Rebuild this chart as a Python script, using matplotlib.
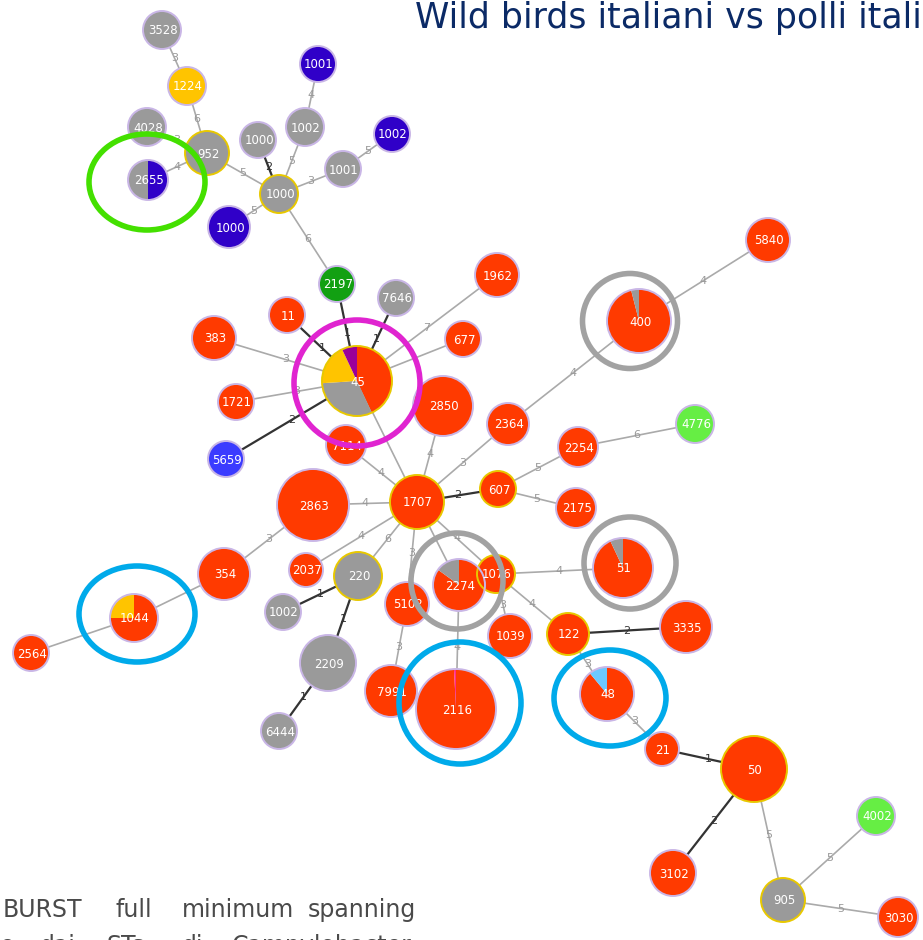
import matplotlib.pyplot as plt
from matplotlib.patches import Circle, Wedge, Ellipse
import numpy as np

# ST nodes : identifiant, etiquette, position (layout eBURST, px), rayon
node_ids = ["3528", "1224", "4028", "952", "2655", "10011", "1002", "10004", "10022",
            "1001", "1000", "10007", "2197", "7646", "11", "383", "45", "677", "1962",
            "1721", "2850", "5659", "7114", "2364", "2254", "4776", "400", "5840",
            "2863", "1707", "607", "2175", "354", "2037", "220", "10028", "5102",
            "2274", "1076", "51", "1039", "122", "3335", "1044", "2564", "2209",
            "7991", "2116", "48", "6444", "21", "50", "3102", "4002", "905", "3030"]
node_labels = ["3528", "1224", "4028", "952", "2655", "1001", "1002", "1000", "1002",
               "1001", "1000", "1000", "2197", "7646", "11", "383", "45", "677", "1962",
               "1721", "2850", "5659", "7114", "2364", "2254", "4776", "400", "5840",
               "2863", "1707", "607", "2175", "354", "2037", "220", "1002", "5102",
               "2274", "1076", "51", "1039", "122", "3335", "1044", "2564", "2209",
               "7991", "2116", "48", "6444", "21", "50", "3102", "4002", "905", "3030"]
layout_x = [162, 187, 147, 207, 148, 318, 305, 258, 392, 343, 279, 229, 337, 396, 287,
            214, 357, 463, 497, 236, 443, 226, 346, 508, 578, 695, 639, 768, 313, 417,
            498, 576, 224, 306, 358, 283, 407, 459, 496, 623, 510, 568, 686, 134, 31,
            328, 391, 456, 607, 279, 662, 754, 673, 876, 783, 898]
layout_y = [30, 86, 127, 153, 180, 64, 127, 140, 134, 169, 194, 227, 284, 298, 315,
            338, 381, 339, 275, 402, 406, 459, 445, 424, 447, 424, 321, 240, 505, 502,
            489, 508, 574, 570, 576, 612, 604, 585, 574, 568, 636, 634, 627, 618, 653,
            663, 691, 709, 694, 731, 749, 769, 873, 816, 900, 917]
node_radius = [19, 19, 19, 22, 20, 18, 19, 18, 18, 18, 19, 21, 18, 18, 18, 22, 35, 18,
               22, 18, 30, 18, 20, 21, 20, 19, 32, 22, 36, 27, 18, 20, 26, 17, 24, 18,
               22, 26, 19, 30, 22, 21, 26, 24, 18, 28, 26, 40, 27, 18, 17, 33, 23, 19,
               22, 20]

# origine des isolats
node_source = {
    "3528": "gray", "1224": "yellow", "4028": "gray", "952": "gray",
    "10011": "navy", "1002": "gray", "10004": "gray", "10022": "navy", "1001": "gray",
    "1000": "gray", "10007": "navy", "2197": "green", "7646": "gray", "5659": "blue",
    "4776": "lime", "220": "gray", "10028": "gray", "2209": "gray", "6444": "gray",
    "4002": "lime", "905": "gray",
}
# STs misti (parts, sens horaire depuis midi)
node_mix = {
    "2655": [("navy", 50), ("gray", 50)],
    "45": [("red", 43), ("gray", 31), ("yellow", 19), ("purple", 7)],
    "400": [("red", 96), ("gray", 4)],
    "2274": [("red", 85), ("gray", 15)],
    "51": [("red", 93), ("gray", 7)],
    "48": [("red", 89), ("lightblue", 11)],
    "1044": [("red", 75), ("yellow", 25)],
    "2116": [("red", 99.2), ("pink", 0.8)],
}
founders = ["952", "1000", "45", "1707", "607", "220", "1076", "122", "50", "905"]

# liens du minimum spanning tree : (ST, ST, nb di loci differenti)
edge_a = ["3528", "1224", "4028", "2655", "952", "10004", "1002", "10011", "1001",
          "10022", "10007", "1000", "2197", "7646", "11", "383", "1721", "5659",
          "1962", "677", "45", "7114", "2850", "2364", "400", "5840", "607", "2254",
          "4776", "2175", "2863", "354", "1044", "2564", "2037", "220", "10028",
          "2209", "6444", "5102", "7991", "2274", "2116", "1076", "1039", "51", "122",
          "3335", "48", "21", "50", "3102", "905", "4002", "3030"]
edge_b = ["1224", "952", "952", "952", "1000", "1000", "1000", "1002", "1000",
          "1001", "1000", "2197", "45", "45", "45", "45", "45", "45",
          "45", "45", "1707", "1707", "1707", "1707", "2364", "400", "1707", "607",
          "2254", "607", "1707", "2863", "354", "1044", "1707", "1707", "220",
          "220", "2209", "1707", "5102", "1707", "2274", "1707", "1076", "1076", "1076",
          "122", "122", "48", "21", "50", "50", "905", "905"]
edge_dist = ["3", "6", "3", "4", "5", "2", "5", "4", "3",
             "5", "5", "6", "1", "1", "1", "3", "3", "2",
             "7", "", "", "4", "4", "3", "4", "4", "2", "5",
             "6", "5", "4", "3", "", "", "4", "6", "1",
             "1", "1", "3", "3", "", "4", "4", "3", "4", "4",
             "2", "3", "3", "1", "2", "5", "5", "5"]

colors = {"red": "#ff3a00", "gray": "#9a9a9a", "yellow": "#ffc400", "navy": "#3000c8",
          "blue": "#3b3bff", "green": "#12a012", "lime": "#66ee44", "purple": "#9a0099",
          "lightblue": "#6cc8ff", "pink": "#ff2a8a"}

# cerchi evidenziati : centro, larghezza, altezza, colore
ring_x = [147, 357, 630, 457, 630, 137, 460, 610]
ring_y = [182, 383, 321, 581, 563, 614, 703, 698]
ring_w = [116, 126, 95, 92, 92, 116, 122, 112]
ring_h = [96, 126, 95, 96, 92, 96, 122, 96]
ring_c = ["#44e000", "#e024d0", "#a2a2a2", "#a2a2a2", "#a2a2a2", "#00aaea", "#00aaea", "#00aaea"]

# didascalia (slide ritagliata)
caption_1 = ["BURST", "full", "minimum", "spanning"]
caption_2 = ["e", "dai", "STs", "di", "Campylobacter"]

W, H = 923, 940
fig = plt.figure(figsize=(W / 100, H / 100), dpi=100)
ax = fig.add_axes([0, 0, 1, 1])
ax.set_xlim(0, W)
ax.set_ylim(H, 0)
ax.set_aspect("equal")
ax.axis("off")

pos = {n: (x, y) for n, x, y in zip(node_ids, layout_x, layout_y)}
rad = dict(zip(node_ids, node_radius))

# liens
for a, b, d in zip(edge_a, edge_b, edge_dist):
    (x1, y1), (x2, y2) = pos[a], pos[b]
    dark = d in ("1", "2")
    ax.plot([x1, x2], [y1, y2], color="#333333" if dark else "#aaaaaa",
            lw=1.6 if dark else 1.2, zorder=1)
    if d:
        ax.text((x1 + x2) / 2, (y1 + y2) / 2, d, fontsize=8,
                color="#333333" if dark else "#999999", ha="center", va="center", zorder=2)

# nodi
for n, lab in zip(node_ids, node_labels):
    x, y = pos[n]
    r = rad[n]
    ring = "#e8c800" if n in founders else "#c9b6e6"
    if n in node_mix:
        parts = node_mix[n]
        tot = sum(p for _, p in parts)
        start = 0.0
        for c, p in parts:
            a1 = start / tot * 360
            a2 = (start + p) / tot * 360
            ax.add_patch(Wedge((x, y), r, -90 + a1, -90 + a2, facecolor=colors[c],
                               edgecolor="none", zorder=3))
            start += p
        ax.add_patch(Circle((x, y), r, facecolor="none", edgecolor=ring, lw=1.4, zorder=4))
    else:
        ax.add_patch(Circle((x, y), r, facecolor=colors[node_source.get(n, "red")],
                            edgecolor=ring, lw=1.4, zorder=3))
    clip = Circle((x, y), r, transform=ax.transData)
    t = ax.text(x + 1, y + 1, lab, fontsize=8.5, color="white", ha="center",
                va="center", zorder=5)
    t.set_clip_path(clip)

# cerchi evidenziati
for cx, cy, w, h, c in zip(ring_x, ring_y, ring_w, ring_h, ring_c):
    ax.add_patch(Ellipse((cx, cy), w, h, fill=False, edgecolor=c, lw=4, zorder=6))

# titolo (tagliato a destra come nella slide)
ax.text(415, 28, "Wild birds italiani vs polli italiani", fontsize=25,
        color="#0b2a66", ha="left", va="baseline", zorder=7)

# didascalia giustificata (tagliata in basso)
for word, xl in zip(caption_1, [3, 115, 182, 308]):
    ax.text(xl, 917, word, fontsize=17, color="#4a4a4a", ha="left", va="baseline")
for word, xl in zip(caption_2, [0, 40, 107, 182, 232]):
    ax.text(xl, 953, word, fontsize=17, color="#4a4a4a", ha="left", va="baseline")

fig.savefig("out.png", dpi=100)
